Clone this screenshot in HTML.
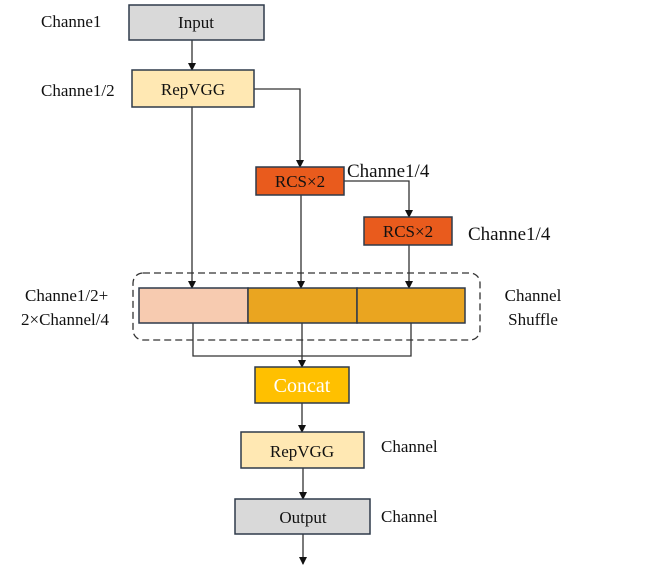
<!DOCTYPE html>
<html><head><style>
body{margin:0;background:#fff;}
svg{display:block;font-family:"Liberation Serif",serif;}
</style></head><body>
<svg width="646" height="574" viewBox="0 0 646 574">
<defs><marker id="a" markerWidth="8" markerHeight="8" refX="4" refY="7" orient="auto" markerUnits="userSpaceOnUse"><path d="M0,0 L8,0 L4,8 Z" fill="#111"/></marker>
<marker id="b" markerWidth="8" markerHeight="8" refX="4" refY="7" orient="0" markerUnits="userSpaceOnUse"><path d="M0,0 L8,0 L4,8 Z" fill="#111"/></marker></defs>
<g stroke="#333" stroke-width="1.3" fill="none">
<line x1="192" y1="40" x2="192" y2="70" marker-end="url(#b)"/>
<polyline points="254,89 300,89 300,167" marker-end="url(#b)"/>
<polyline points="344,181 409,181 409,217" marker-end="url(#b)"/>
<line x1="192" y1="107" x2="192" y2="288" marker-end="url(#b)"/>
<line x1="301" y1="195" x2="301" y2="288" marker-end="url(#b)"/>
<line x1="409" y1="245" x2="409" y2="288" marker-end="url(#b)"/>
<polyline points="193,323 193,356 411,356 411,323"/>
<line x1="302" y1="323" x2="302" y2="367" marker-end="url(#b)"/>
<line x1="302" y1="403" x2="302" y2="432" marker-end="url(#b)"/>
<line x1="303" y1="468" x2="303" y2="499" marker-end="url(#b)"/>
<line x1="303" y1="534" x2="303" y2="564" marker-end="url(#b)"/>
<rect x="133" y="273" width="347" height="67" rx="10" stroke="#333" stroke-dasharray="7,4"/>
</g>
<g stroke="#2f3a4a" stroke-width="1.5">
<rect x="129" y="5" width="135" height="35" fill="#d9d9d9"/>
<rect x="132" y="70" width="122" height="37" fill="#ffe8b3"/>
<rect x="256" y="167" width="88" height="28" fill="#e95b1d"/>
<rect x="364" y="217" width="88" height="28" fill="#e95b1d"/>
<rect x="139" y="288" width="109" height="35" fill="#f7cbb0"/>
<rect x="248" y="288" width="109" height="35" fill="#eaa520"/>
<rect x="357" y="288" width="108" height="35" fill="#eaa520"/>
<rect x="255" y="367" width="94" height="36" fill="#ffc000"/>
<rect x="241" y="432" width="123" height="36" fill="#ffe8b3"/>
<rect x="235" y="499" width="135" height="35" fill="#d9d9d9"/>
</g>
<g fill="#111" font-size="17" text-anchor="middle">
<text x="196" y="28">Input</text>
<text x="193" y="95">RepVGG</text>
<text x="300" y="187">RCS×2</text>
<text x="408" y="237">RCS×2</text>
<text x="302" y="392" fill="#fff" font-size="20">Concat</text>
<text x="302" y="457">RepVGG</text>
<text x="303" y="523">Output</text>
<text x="533" y="301">Channel</text>
<text x="533" y="325">Shuffle</text>
</g>
<g fill="#111" font-size="17">
<text x="41" y="27">Channe1</text>
<text x="41" y="96">Channe1/2</text>
<text x="347" y="177" font-size="19">Channe1/4</text>
<text x="468" y="240" font-size="19">Channe1/4</text>
<text x="25" y="301">Channe1/2+</text>
<text x="21" y="325">2×Channel/4</text>
<text x="381" y="452">Channel</text>
<text x="381" y="522">Channel</text>
</g>
</svg>
</body></html>
